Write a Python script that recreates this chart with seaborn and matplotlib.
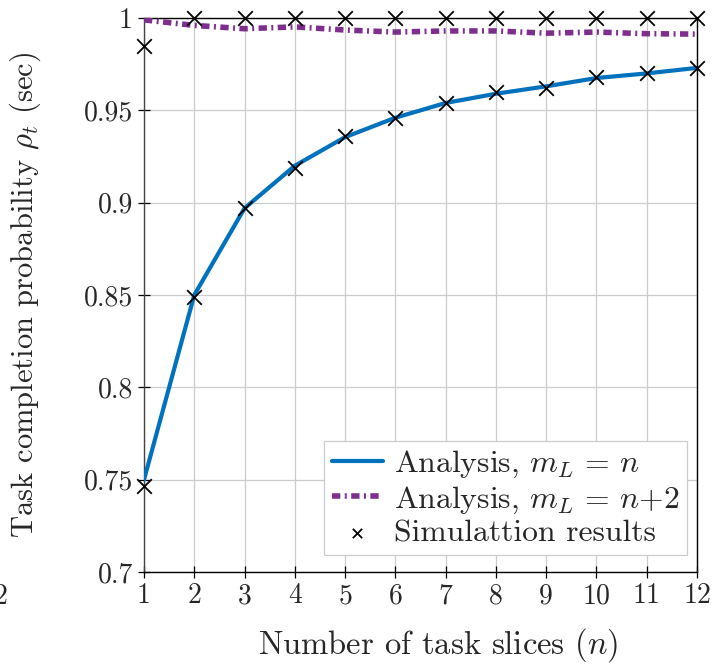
import numpy as np
import pandas as pd
import matplotlib
matplotlib.use("Agg")
import matplotlib.pyplot as plt
import seaborn as sns

# datos
n_slices = [1, 2, 3, 4, 5, 6, 7, 8, 9, 10, 11, 12]
rho_mL_n = [0.750, 0.850, 0.897, 0.920, 0.9355, 0.946, 0.954, 0.959, 0.963, 0.9675, 0.970, 0.973]
rho_mL_n2 = [0.999, 0.996, 0.9942, 0.9952, 0.9935, 0.9924, 0.993, 0.993, 0.9918, 0.9924, 0.9915, 0.9913]
sim_mL_n = [0.7466, 0.849, 0.897, 0.919, 0.936, 0.946, 0.954, 0.960, 0.962, 0.968, 0.970, 0.973]
sim_mL_n2 = [0.985, 1.0, 1.0, 1.0, 1.0, 1.0, 1.0, 1.0, 1.0, 1.0, 1.0, 1.0]
y_ticks = [0.7, 0.75, 0.8, 0.85, 0.9, 0.95, 1.0]
y_tick_labels = ['0.7', '0.75', '0.8', '0.85', '0.9', '0.95', '1']

sns.set_theme(style="whitegrid")
plt.rcParams['font.family'] = ['cmr10', 'DejaVu Serif']
plt.rcParams['mathtext.fontset'] = 'cm'
plt.rcParams['axes.formatter.use_mathtext'] = True
plt.rcParams['axes.unicode_minus'] = False

df_an = pd.DataFrame({'n': n_slices, 'a': rho_mL_n, 'b': rho_mL_n2})
df_sim = pd.DataFrame({'n': n_slices * 2, 'rho': sim_mL_n + sim_mL_n2})

fig = plt.figure(figsize=(7.15, 6.65), dpi=100)
ax = fig.add_axes([0.2014, 0.1398, 0.7734, 0.8331])
ax.set_facecolor('white')

blue = '#0072BD'
purple = '#7E2F8E'

sns.lineplot(data=df_an, x='n', y='a', ax=ax, color=blue, linewidth=3.0,
             label=r'Analysis, $m_L\,=\,n$', zorder=3)
sns.lineplot(data=df_an, x='n', y='b', ax=ax, color=purple, linewidth=4.0,
             label=r'Analysis, $m_L\,=\,n{+}2$', zorder=3)
ax.lines[1].set_dashes((1.5, 0.8, 0.35, 0.8))
ax.lines[1].set_dash_capstyle('butt')
sns.scatterplot(data=df_sim, x='n', y='rho', ax=ax, marker='x', color='black',
                s=110, linewidth=1.3, label='Simulattion results', zorder=4,
                clip_on=False)

ax.set_xlim(1, 12)
ax.set_ylim(0.7, 1.0)
ax.set_xticks(n_slices)
ax.set_xticklabels([str(v) for v in n_slices])
ax.set_yticks(y_ticks)
ax.set_yticklabels(y_tick_labels)
ax.tick_params(axis='both', labelsize=20, direction='inout', length=8, width=0.9,
               color='black', left=True, bottom=True, pad=4)
ax.grid(True, color='#cccccc', linewidth=0.9)
for s in ax.spines.values():
    s.set_color('black')
    s.set_linewidth(1.0)
ax.spines['left'].set_color('#444444')

ax.set_xlabel(r'Number of task slices ($n$)', fontsize=23.5, va='center')
ax.xaxis.set_label_coords(0.532, -0.132)
ax.set_ylabel(r'Task completion probability $\rho_t$ (sec)', fontsize=22, va='center')
ax.yaxis.set_label_coords(-0.215, 0.5)

leg = ax.legend(loc='lower right', bbox_to_anchor=(0.982, 0.03), fontsize=22.8,
                frameon=True, fancybox=False, edgecolor='#cccccc', framealpha=1.0,
                borderaxespad=0, handlelength=1.6, handletextpad=0.35,
                borderpad=0.25, labelspacing=0.12)
leg.get_frame().set_linewidth(0.9)
leg.legend_handles[2].set_sizes([45])

# trozo de texto cortado en el borde izquierdo
fig.text(-0.0095, 0.1023, '2', fontsize=20, ha='left', va='center')

plt.savefig('out.png', dpi=100)
plt.close()
